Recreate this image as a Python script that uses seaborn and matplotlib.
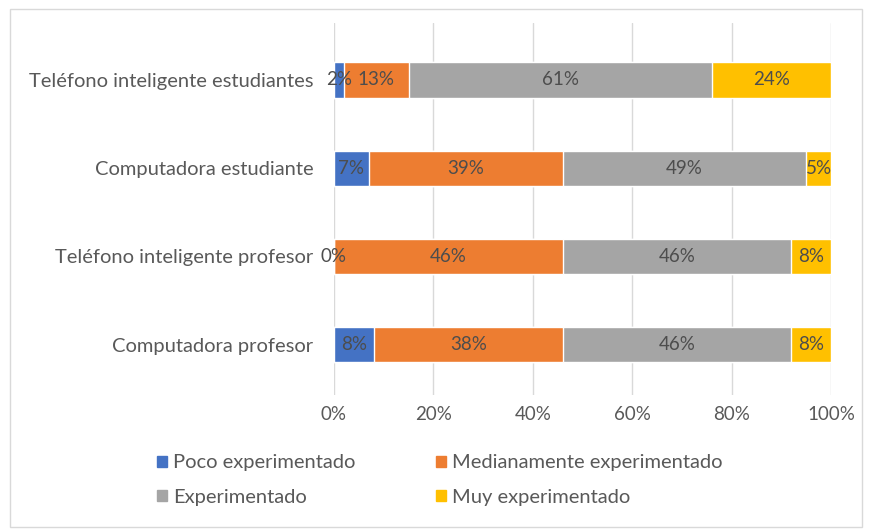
import matplotlib
matplotlib.use("Agg")
import matplotlib.pyplot as plt
import matplotlib.patches as mpatches
from matplotlib.ticker import PercentFormatter
import seaborn as sns
import pandas as pd
import numpy as np

categories = [
    "Teléfono inteligente estudiantes",
    "Computadora estudiante",
    "Teléfono inteligente profesor",
    "Computadora profesor",
]
series_names = [
    "Poco experimentado",
    "Medianamente experimentado",
    "Experimentado",
    "Muy experimentado",
]
poco = [2, 7, 0, 8]
medianamente = [13, 39, 46, 38]
experimentado = [61, 49, 46, 46]
muy = [24, 5, 8, 8]
colors = ["#4472C4", "#ED7D31", "#A5A5A5", "#FFC000"]
x_ticks = [0, 20, 40, 60, 80, 100]

sns.set_theme(style="white")
plt.rcParams["font.family"] = ["Lato", "DejaVu Sans"]

values = np.array([poco, medianamente, experimentado, muy], dtype=float)
cum = np.cumsum(values, axis=0)
left = cum - values

fig = plt.figure(figsize=(8.7, 5.29), dpi=100)
ax = fig.add_axes([334 / 870, 1 - 395 / 529, (831 - 334) / 870, (395 - 23) / 529])

# stacked bars: draw cumulative totals from the outermost segment inward
for i in range(len(series_names) - 1, -1, -1):
    df = pd.DataFrame({"categoria": categories, "valor": cum[i]})
    sns.barplot(data=df, x="valor", y="categoria", color=colors[i],
                orient="h", width=0.4, saturation=1, ax=ax, zorder=3)

# data labels centred on each segment
for i in range(len(series_names)):
    for j in range(len(categories)):
        ax.text(left[i, j] + values[i, j] / 2, j, f"{int(values[i, j])}%",
                ha="center", va="center", fontsize=13.5, color="#4d4d4d",
                zorder=5)

ax.set_xlim(0, 100)
ax.set_ylim(3.57, -0.645)
ax.set_xticks(x_ticks)
ax.xaxis.set_major_formatter(PercentFormatter(decimals=0))
ax.grid(axis="x", color="#d9d9d9", linewidth=1, zorder=0)
ax.grid(axis="y", visible=False)
ax.set_axisbelow(True)
ax.set_xlabel("")
ax.set_ylabel("")
for s in ax.spines.values():
    s.set_visible(False)
ax.tick_params(axis="x", length=0, labelsize=13.5, colors="#595959", pad=8)
ax.tick_params(axis="y", length=0, labelsize=14.5, colors="#595959", pad=15)

handles = [mpatches.Patch(color=c, label=n) for c, n in zip(colors, series_names)]
order = [0, 2, 1, 3]
leg = fig.legend([handles[k] for k in order], [series_names[k] for k in order],
                 ncol=2, loc="center left", bbox_to_anchor=(139 / 870, 1 - 480 / 529),
                 frameon=False, fontsize=14.5, handlelength=0.5, handleheight=0.5,
                 handletextpad=0.3, columnspacing=4.0, labelspacing=0.85,
                 labelcolor="#595959")

# outer chart border
fig.patches.append(mpatches.Rectangle((10 / 870, 2 / 529), 852 / 870, 518 / 529,
                                      transform=fig.transFigure, fill=False,
                                      edgecolor="#d9d9d9", linewidth=1))

fig.savefig("out.png", dpi=100)
